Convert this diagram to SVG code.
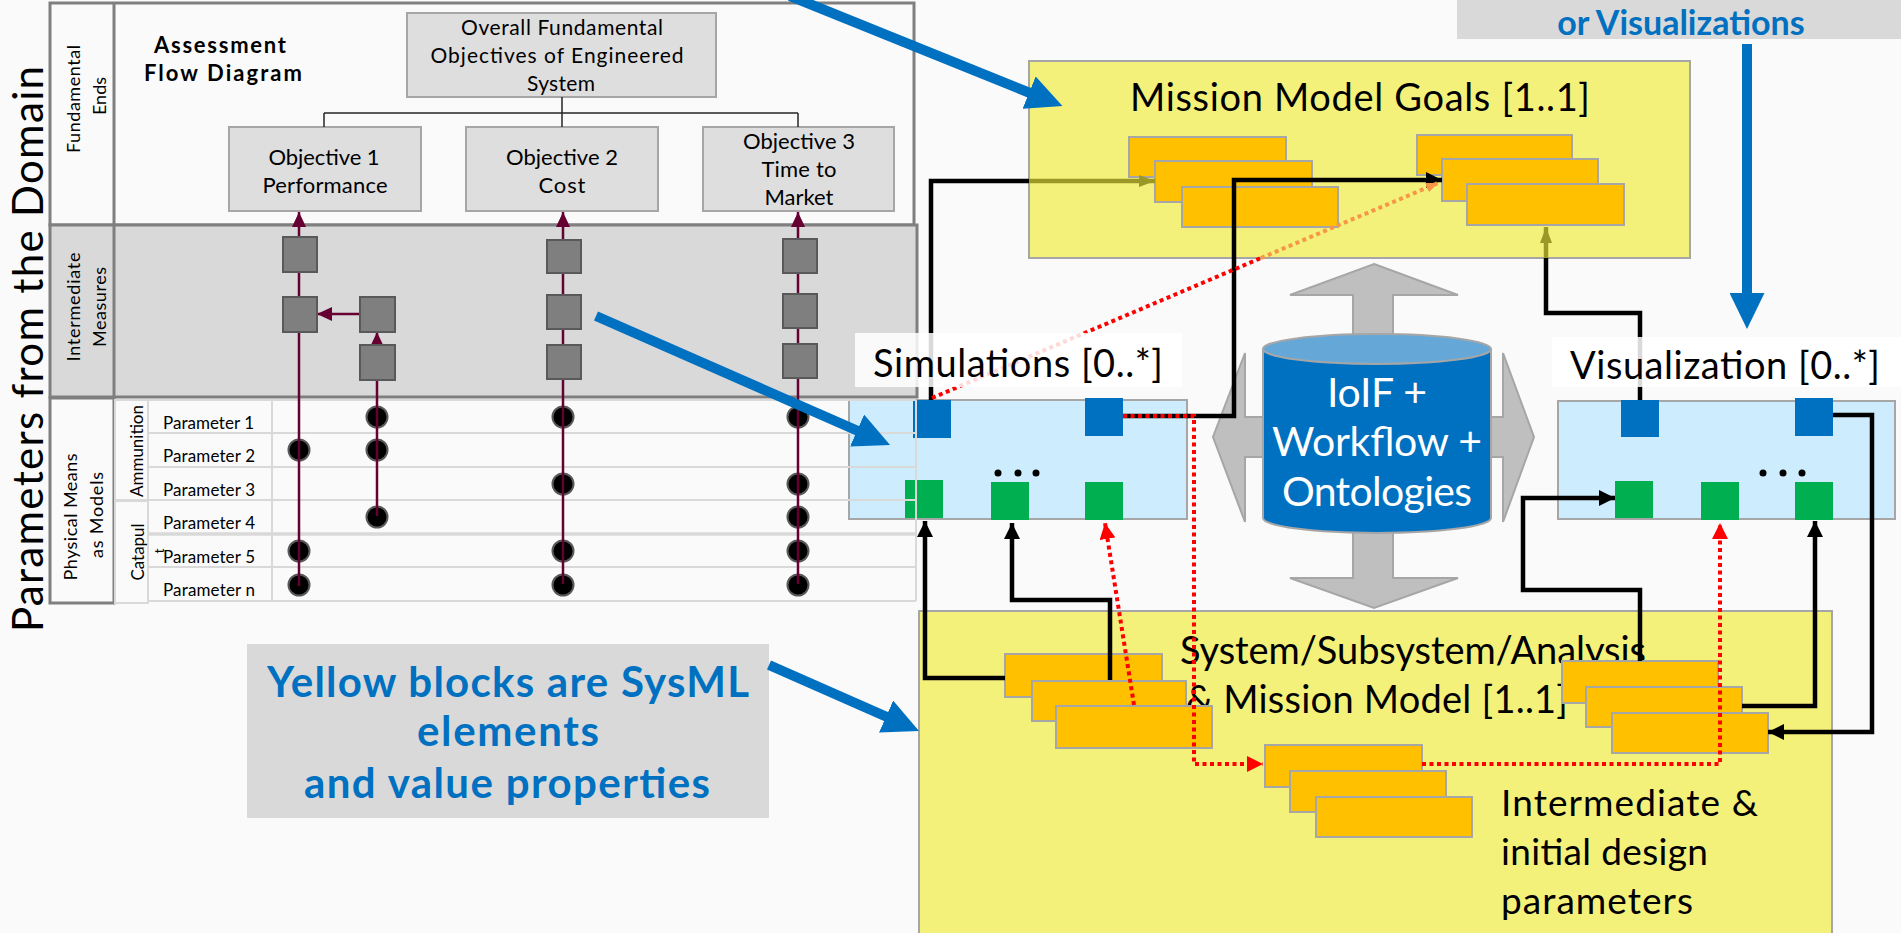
<svg xmlns="http://www.w3.org/2000/svg" width="1901" height="933" viewBox="0 0 1901 933">
<defs>
<style>
.t{font-family:Lato,"Liberation Sans",sans-serif;fill:#000}
.b{font-weight:bold}
.bl{fill:#0070c0}
.w{fill:#fff}
.obj{fill:#dedede;stroke:#a6a6a6;stroke-width:2}
.sq{fill:#7f7f7f;stroke:#595959;stroke-width:2}
.dot{fill:#000;stroke:#595959;stroke-width:2}
.mar{stroke:#660033;stroke-width:2.5;fill:none}
.grid{stroke:#d9d9d9;stroke-width:2;fill:none}
.yel{fill:#f4f17a;stroke:#a6a6a6;stroke-width:2}
.org{fill:#ffc000;stroke:#a6a6a6;stroke-width:2}
.lb{fill:#cdecfd;stroke:#a6a6a6;stroke-width:2}
.bsq{fill:#0070c0}
.gsq{fill:#00b050}
.k{stroke:#000;stroke-width:4.5;fill:none}
.ol{stroke:#9a9826;stroke-width:4.5;fill:none}
.rd{stroke:#ff0000;stroke-width:4;stroke-dasharray:4 3.5;fill:none}
.od{stroke:#f79646;stroke-width:4;stroke-dasharray:4 3.5;fill:none}
.blu{stroke:#0070c0;stroke-width:10;fill:none}
</style>
<marker id="mMar" markerUnits="userSpaceOnUse" viewBox="0 0 15 14" refX="15" refY="7" markerWidth="15" markerHeight="14" orient="auto"><path d="M0,0L15,7L0,14z" fill="#660033"/></marker>
<marker id="mK" markerUnits="userSpaceOnUse" viewBox="0 0 16 16" refX="16" refY="8" markerWidth="16" markerHeight="16" orient="auto"><path d="M0,0L16,8L0,16z" fill="#000"/></marker>
<marker id="mR" markerUnits="userSpaceOnUse" viewBox="0 0 16 16" refX="16" refY="8" markerWidth="16" markerHeight="16" orient="auto"><path d="M0,0L16,8L0,16z" fill="#ff0000"/></marker>
<marker id="mO" markerUnits="userSpaceOnUse" viewBox="0 0 16 12" refX="16" refY="6" markerWidth="16" markerHeight="12" orient="auto"><path d="M0,0L16,6L0,12z" fill="#9a9826"/></marker>
<marker id="mOr" markerUnits="userSpaceOnUse" viewBox="0 0 12 10" refX="12" refY="5" markerWidth="12" markerHeight="10" orient="auto"><path d="M0,0L12,5L0,10z" fill="#f79646"/></marker>
<marker id="mB" markerUnits="userSpaceOnUse" viewBox="0 0 36 35" refX="1" refY="17.5" markerWidth="36" markerHeight="35" orient="auto"><path d="M0,0L36,17.5L0,35z" fill="#0070c0"/></marker>
</defs>

<rect x="0" y="0" width="1901" height="933" fill="#fafafa"/>

<!-- Simulations box -->
<g id="simulations">
<rect class="lb" x="849" y="400" width="338" height="119"/>
<rect class="bsq" x="913" y="400" width="38" height="38"/>
<rect class="bsq" x="1085" y="398" width="38" height="38"/>
<rect class="gsq" x="905" y="480" width="38" height="38"/>
<rect class="gsq" x="991" y="482" width="38" height="38"/>
<rect class="gsq" x="1085" y="482" width="38" height="38"/>
<circle cx="998" cy="473" r="3.5"/><circle cx="1018" cy="473" r="3.5"/><circle cx="1036" cy="473" r="3.5"/>
</g>

<!-- Visualization box -->
<g id="visualization">
<rect class="lb" x="1558" y="401" width="337" height="118"/>
<rect class="bsq" x="1621" y="400" width="38" height="37"/>
<rect class="bsq" x="1795" y="398" width="38" height="38"/>
<rect class="gsq" x="1615" y="481" width="38" height="37"/>
<rect class="gsq" x="1701" y="482" width="38" height="38"/>
<rect class="gsq" x="1795" y="482" width="38" height="38"/>
<circle cx="1763" cy="473" r="3.5"/><circle cx="1783" cy="473" r="3.5"/><circle cx="1802" cy="473" r="3.5"/>
</g>

<!-- Assessment flow diagram panel -->
<g id="assessment-panel">
<rect x="50" y="3" width="864" height="222" fill="#fafafa" stroke="#7f7f7f" stroke-width="3"/>
<line x1="114" y1="3" x2="114" y2="225" stroke="#7f7f7f" stroke-width="3"/>
<rect x="50" y="225" width="867" height="172" fill="#d9d9d9" stroke="#7f7f7f" stroke-width="3"/>
<line x1="114" y1="225" x2="114" y2="397" stroke="#7f7f7f" stroke-width="3"/>
<rect x="50" y="398" width="64" height="205" fill="none" stroke="#7f7f7f" stroke-width="3"/>
<rect class="grid" x="115" y="400" width="33" height="100"/>
<rect class="grid" x="115" y="501" width="33" height="102"/>
<path class="grid" d="M148,400H916M148,433H916M148,467H916M148,500H916M148,567H916M148,601H916M148,400V601M272,400V601M916,400V601"/>
<line x1="148" y1="534" x2="916" y2="534" stroke="#d9d9d9" stroke-width="3.5"/>

<text class="t b" x="220" y="53" font-size="22" text-anchor="middle" textLength="132">Assessment</text>
<text class="t b" x="223" y="81" font-size="22" text-anchor="middle" textLength="158">Flow Diagram</text>

<text class="t" font-size="18" text-anchor="middle" textLength="108" transform="translate(80,99) rotate(-90)">Fundamental</text>
<text class="t" font-size="18" text-anchor="middle" textLength="38" transform="translate(106,96) rotate(-90)">Ends</text>
<text class="t" font-size="18" text-anchor="middle" textLength="109" transform="translate(80,307) rotate(-90)">Intermediate</text>
<text class="t" font-size="18" text-anchor="middle" textLength="80" transform="translate(106,307) rotate(-90)">Measures</text>
<text class="t" font-size="18" text-anchor="middle" textLength="127" transform="translate(77,517) rotate(-90)">Physical Means</text>
<text class="t" font-size="18" text-anchor="middle" textLength="86" transform="translate(103,515) rotate(-90)">as Models</text>
<text class="t" font-size="17" text-anchor="middle" textLength="92" transform="translate(143,451) rotate(-90)">Ammunition</text>
<text class="t" font-size="17" text-anchor="middle" textLength="57" transform="translate(144,552) rotate(-90)">Catapul</text>
<text class="t" font-size="14" text-anchor="middle" transform="translate(164,551) rotate(-90)">t</text>

<g class="t" font-size="17">
<text x="163" y="429" textLength="91">Parameter 1</text>
<text x="163" y="462" textLength="92">Parameter 2</text>
<text x="163" y="496" textLength="92">Parameter 3</text>
<text x="163" y="529" textLength="92">Parameter 4</text>
<text x="163" y="563" textLength="92">Parameter 5</text>
<text x="163" y="596" textLength="92">Parameter n</text>
</g>
</g>

<g id="overall-objectives">
<rect class="obj" x="407" y="13" width="309" height="84"/>
<text class="t" x="562" y="35" font-size="21" text-anchor="middle" textLength="202">Overall Fundamental</text>
<text class="t" x="557" y="63" font-size="21" text-anchor="middle" textLength="253">Objectives of Engineered</text>
<text class="t" x="561" y="91" font-size="21" text-anchor="middle" textLength="68">System</text>
</g>
<g id="objective-1">
<rect class="obj" x="229" y="127" width="192" height="84"/>
<text class="t" x="324" y="165" font-size="22" text-anchor="middle" textLength="111">Objective 1</text>
<text class="t" x="325" y="193" font-size="22" text-anchor="middle" textLength="125">Performance</text>
</g>
<g id="objective-2">
<rect class="obj" x="466" y="127" width="192" height="84"/>
<text class="t" x="562" y="165" font-size="22" text-anchor="middle" textLength="112">Objective 2</text>
<text class="t" x="562" y="193" font-size="22" text-anchor="middle" textLength="47">Cost</text>
</g>
<g id="objective-3">
<rect class="obj" x="703" y="127" width="191" height="84"/>
<text class="t" x="799" y="149" font-size="22" text-anchor="middle" textLength="112">Objective 3</text>
<text class="t" x="799" y="177" font-size="22" text-anchor="middle" textLength="75">Time to</text>
<text class="t" x="799" y="205" font-size="22" text-anchor="middle" textLength="69">Market</text>
</g>

<g id="measures-flow">
<g>
<circle class="dot" cx="299" cy="450" r="10.5"/><circle class="dot" cx="299" cy="551" r="10.5"/><circle class="dot" cx="299" cy="585" r="10.5"/>
<circle class="dot" cx="377" cy="417" r="10.5"/><circle class="dot" cx="377" cy="450" r="10.5"/><circle class="dot" cx="377" cy="517" r="10.5"/>
<circle class="dot" cx="563" cy="417" r="10.5"/><circle class="dot" cx="563" cy="484" r="10.5"/><circle class="dot" cx="563" cy="551" r="10.5"/><circle class="dot" cx="563" cy="585" r="10.5"/>
<circle class="dot" cx="798" cy="417" r="10.5"/><circle class="dot" cx="798" cy="484" r="10.5"/><circle class="dot" cx="798" cy="517" r="10.5"/><circle class="dot" cx="798" cy="551" r="10.5"/><circle class="dot" cx="798" cy="585" r="10.5"/>
</g>
<path class="mar" d="M299,586V212" marker-end="url(#mMar)"/>
<path class="mar" d="M377,516V332" marker-end="url(#mMar)"/>
<path class="mar" d="M359,314H317" marker-end="url(#mMar)"/>
<path class="mar" d="M563,584V212" marker-end="url(#mMar)"/>
<path class="mar" d="M798,584V212" marker-end="url(#mMar)"/>
<rect class="sq" x="283" y="237" width="34" height="35"/>
<rect class="sq" x="283" y="297" width="34" height="35"/>
<rect class="sq" x="360" y="297" width="35" height="35"/>
<rect class="sq" x="360" y="345" width="35" height="35"/>
<rect class="sq" x="547" y="240" width="34" height="33"/>
<rect class="sq" x="547" y="295" width="34" height="34"/>
<rect class="sq" x="547" y="345" width="34" height="34"/>
<rect class="sq" x="783" y="239" width="34" height="34"/>
<rect class="sq" x="783" y="294" width="34" height="34"/>
<rect class="sq" x="783" y="344" width="34" height="34"/>
</g>

<text class="t" font-size="42" text-anchor="middle" textLength="566" transform="translate(43,349) rotate(-90)">Parameters from the Domain</text>

<!-- Mission Model Goals -->
<g id="mission-goals">
<rect class="yel" x="1029" y="61" width="661" height="197"/>
<text class="t" x="1130" y="111" font-size="38" textLength="460">Mission Model Goals [1..1]</text>
<rect class="org" x="1129" y="137" width="157" height="40"/>
<rect class="org" x="1155" y="161" width="157" height="41"/>
<rect class="org" x="1182" y="187" width="156" height="40"/>
<rect class="org" x="1417" y="135" width="155" height="40"/>
<rect class="org" x="1442" y="159" width="156" height="42"/>
<rect class="org" x="1467" y="184" width="157" height="41"/>
</g>

<!-- System model -->
<g id="system-model">
<rect class="yel" x="919" y="611" width="913" height="340"/>
<text class="t" x="1180" y="664" font-size="38" textLength="466">System/Subsystem/Analysis</text>
<text class="t" x="1186" y="713" font-size="38" textLength="382">&amp; Mission Model [1..1]</text>
<text class="t" x="1501" y="816" font-size="37" textLength="257">Intermediate &amp;</text>
<text class="t" x="1501" y="865" font-size="37" textLength="207">initial design</text>
<text class="t" x="1501" y="914" font-size="37" textLength="192">parameters</text>
<rect class="org" x="1005" y="654" width="157" height="43"/>
<rect class="org" x="1032" y="681" width="154" height="40"/>
<rect class="org" x="1056" y="706" width="156" height="42"/>
<rect class="org" x="1265" y="745" width="157" height="42"/>
<rect class="org" x="1290" y="771" width="156" height="41"/>
<rect class="org" x="1316" y="797" width="156" height="40"/>
<rect class="org" x="1562" y="661" width="156" height="42"/>
<rect class="org" x="1586" y="687" width="156" height="40"/>
<rect class="org" x="1612" y="713" width="156" height="40"/>
</g>

<!-- IoIF hub -->
<g id="ioif-hub">
<polygon points="1374,264 1458,295 1393,295 1393,417 1503,417 1503,353 1534,437 1503,522 1503,457 1393,457 1393,578 1458,578 1374,608 1290,578 1353,578 1353,457 1245,457 1245,522 1213,437 1245,353 1245,417 1353,417 1353,295 1290,295" fill="#bfbfbf" stroke="#a6a6a6" stroke-width="2"/>
<path d="M1263,349V518A114,15 0 0 0 1491,518V349" fill="#0070c0" stroke="#a6a6a6" stroke-width="2"/>
<ellipse cx="1377" cy="349" rx="114" ry="15" fill="#65a8d8" stroke="#a6a6a6" stroke-width="2"/>
<text class="t w" x="1377" y="407" font-size="41" text-anchor="middle" textLength="100">IoIF +</text>
<text class="t w" x="1377" y="456" font-size="41" text-anchor="middle" textLength="210">Workflow +</text>
<text class="t w" x="1377" y="506" font-size="41" text-anchor="middle" textLength="190">Ontologies</text>
</g>

<!-- Connectors -->
<g id="connectors">
<path d="M562,97V113M324,113H798M324,113V127M562,113V127M798,113V127" stroke="#262626" stroke-width="1.5" fill="none"/>
<path class="k" d="M931,400V181H1029"/>
<path class="ol" d="M1029,181H1155" marker-end="url(#mO)"/>
<path class="k" d="M1123,416H1234V180H1442" marker-end="url(#mK)"/>
<path class="rd" d="M932,398L1261,258"/>
<path class="od" d="M1261,258L1438,183" marker-end="url(#mOr)"/>
<path class="rd" d="M1123,416H1194V764H1263" marker-end="url(#mR)"/>
<path class="k" d="M1005,678H925V521" marker-end="url(#mK)"/>
<path class="k" d="M1110,680V600H1012V523" marker-end="url(#mK)"/>
<path class="rd" d="M1134,705L1105,523" marker-end="url(#mR)"/>
<path class="rd" d="M1422,764H1720V523" marker-end="url(#mR)"/>
<path class="k" d="M1640,661V590H1523V498H1615" marker-end="url(#mK)"/>
<path class="k" d="M1742,706H1815V521" marker-end="url(#mK)"/>
<path class="k" d="M1833,415H1872V732H1768" marker-end="url(#mK)"/>
<path class="k" d="M1640,400V313H1546V258"/>
<path class="ol" d="M1546,258V227" marker-end="url(#mO)"/>
</g>

<g id="label-simulations">
<rect x="855" y="333" width="327" height="54" fill="#fff" fill-opacity="0.85"/>
<text class="t" x="873" y="377" font-size="38" textLength="290">Simulations [0..*]</text>
</g>
<g id="label-visualization">
<rect x="1552" y="337" width="349" height="50" fill="#fff" fill-opacity="0.85"/>
<text class="t" x="1570" y="379" font-size="38" textLength="310">Visualization [0..*]</text>
</g>

<!-- Callouts -->
<g id="callout-yellow">
<rect x="247" y="644" width="522" height="174" fill="#d9d9d9"/>
<text class="t b bl" x="508" y="697" font-size="42" text-anchor="middle" textLength="482">Yellow blocks are SysML</text>
<text class="t b bl" x="508" y="746" font-size="42" text-anchor="middle" textLength="182">elements</text>
<text class="t b bl" x="507" y="798" font-size="42" text-anchor="middle" textLength="406">and value properties</text>
</g>
<g id="callout-visualizations">
<rect x="1457" y="-10" width="450" height="49" fill="#d9d9d9"/>
<text class="t b bl" x="1681" y="35" font-size="34" text-anchor="middle">or Visualizations</text>
</g>

<g id="callout-arrows">
<path class="blu" d="M790,-4L1030,93" marker-end="url(#mB)"/>
<path class="blu" d="M596,316L858,431" marker-end="url(#mB)"/>
<path class="blu" d="M769,665L887,717" marker-end="url(#mB)"/>
<path class="blu" d="M1747,44V294" marker-end="url(#mB)"/>
</g>
</svg>
